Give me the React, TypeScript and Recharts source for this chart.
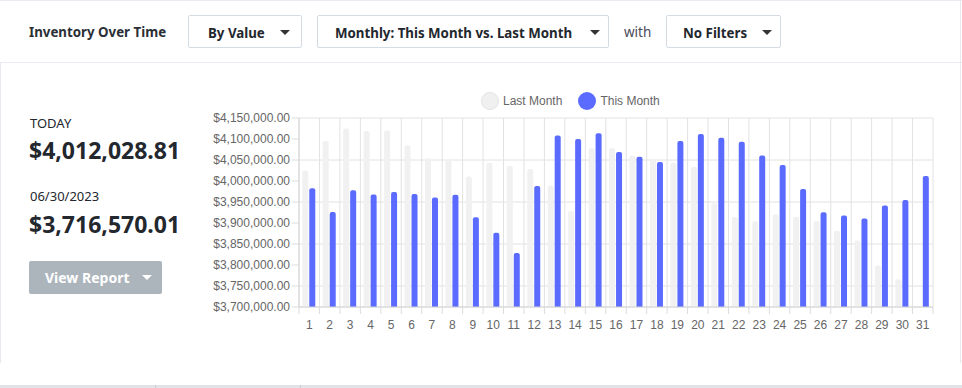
import React from 'react';
import { BarChart, Bar, XAxis, YAxis, CartesianGrid } from 'recharts';

// days of the month
const days = [
  '1', '2', '3', '4', '5', '6', '7', '8', '9', '10', '11', '12', '13', '14', '15', '16',
  '17', '18', '19', '20', '21', '22', '23', '24', '25', '26', '27', '28', '29', '30', '31',
];

const lastMonth = [
  4025000, 4095000, 4125000, 4119000, 4120500, 4085000, 4054000, 4051000, 4011000, 4043500,
  4036500, 4028500, 3989500, 3928500, 4078000, 4078000, 4060000, 4053000, 4043500, 4034000,
  3947000, 3914000, 3905000, 3920500, 3915000, 3905000, 3881500, 3858500, 3799000, 3766000,
  null,
];

const thisMonth = [
  3983000, 3926000, 3978000, 3968000, 3974000, 3969000, 3960500, 3967500, 3913500, 3877000,
  3828500, 3988000, 4108500, 4100000, 4113500, 4069000, 4058000, 4045000, 4095000, 4112000,
  4103000, 4093500, 4060500, 4038000, 3981000, 3925500, 3918000, 3911000, 3941500, 3955000,
  4012000,
];

const yTicks = [
  3700000, 3750000, 3800000, 3850000, 3900000, 3950000, 4000000, 4050000, 4100000, 4150000,
];

const data = days.map((d, i) => ({ day: d, lastMonth: lastMonth[i], thisMonth: thisMonth[i] }));

const CHART_W = 745;
const CHART_H = 260;
const MARGIN = { top: 33, right: 12, bottom: 8, left: 0 };
const Y_W = 99;
const PLOT_W = CHART_W - MARGIN.left - MARGIN.right - Y_W;
const BAND = PLOT_W / days.length;

const money = (v: number) =>
  '$' + v.toLocaleString('en-US', { minimumFractionDigits: 2, maximumFractionDigits: 2 });

const AXIS_FONT = '"Liberation Sans", Arial, sans-serif';
const UI_FONT = '"Noto Sans", sans-serif';

function DayTick(props: any) {
  const { x, y, payload, index } = props;
  const axisY = y - 8;
  return (
    <g>
      <line x1={x - BAND / 2} x2={x - BAND / 2} y1={axisY} y2={axisY + 7} stroke="#dcdcdc" />
      {index === days.length - 1 && (
        <line x1={x + BAND / 2} x2={x + BAND / 2} y1={axisY} y2={axisY + 7} stroke="#dcdcdc" />
      )}
      <text x={x} y={y + 14} textAnchor="middle" fill="#666" fontSize={12} fontFamily={AXIS_FONT}>
        {payload.value}
      </text>
    </g>
  );
}

function Caret({ color = '#333' }: { color?: string }) {
  return (
    <svg width="10" height="6" style={{ display: 'block' }}>
      <polygon points="0,0 10,0 5,5" fill={color} />
    </svg>
  );
}

function Dropdown({ label, left, width, textLeft, caretLeft }: any) {
  return (
    <div
      style={{
        position: 'absolute', left, top: 15, width, height: 33, boxSizing: 'border-box',
        border: '1px solid #d3dbe4', borderRadius: 2,
      }}
    >
      <span
        style={{
          position: 'absolute', left: textLeft, top: 8, fontSize: 13.3, fontWeight: 700,
          color: '#23272e', whiteSpace: 'nowrap',
        }}
      >
        {label}
      </span>
      <div style={{ position: 'absolute', left: caretLeft, top: 14 }}>
        <Caret />
      </div>
    </div>
  );
}

export default function App() {
  return (
    <div style={{ position: 'relative', width: 962, height: 388, background: '#fff', fontFamily: UI_FONT, overflow: 'hidden' }}>
      <style>{'body{margin:0}'}</style>
      {/* frame */}
      <div style={{ position: 'absolute', left: 0, top: 0, width: 962, height: 1, background: '#e9edf1' }} />
      <div style={{ position: 'absolute', left: 0, top: 62, width: 962, height: 1, background: '#e9edf1' }} />
      <div style={{ position: 'absolute', left: 0, top: 63, width: 1, height: 300, background: '#e6eaee' }} />
      <div style={{ position: 'absolute', left: 960, top: 0, width: 1, height: 363, background: '#e6eaee' }} />
      <div style={{ position: 'absolute', left: 0, top: 385, width: 962, height: 3, background: '#dfe3e7' }} />
      <div style={{ position: 'absolute', left: 155, top: 385, width: 1, height: 3, background: '#c9ced3' }} />
      <div style={{ position: 'absolute', left: 300, top: 385, width: 1, height: 3, background: '#c9ced3' }} />

      {/* header */}
      <div style={{ position: 'absolute', left: 29, top: 23, fontSize: 13.3, fontWeight: 700, color: '#2b2f36' }}>
        Inventory Over Time
      </div>
      <Dropdown label="By Value" left={188} width={114} textLeft={19} caretLeft={91} />
      <Dropdown label="Monthly: This Month vs. Last Month" left={317} width={292} textLeft={17} caretLeft={272} />
      <div style={{ position: 'absolute', left: 624, top: 23, fontSize: 13.5, color: '#4a4a5a' }}>with</div>
      <Dropdown label="No Filters" left={666} width={115} textLeft={16} caretLeft={95} />

      {/* left summary */}
      <div style={{ position: 'absolute', left: 30, top: 114, fontSize: 13, color: '#23272e' }}>TODAY</div>
      <div style={{ position: 'absolute', left: 29, top: 134, fontSize: 23, fontWeight: 700, color: '#23272e' }}>
        $4,012,028.81
      </div>
      <div style={{ position: 'absolute', left: 30, top: 187, fontSize: 13, color: '#23272e' }}>06/30/2023</div>
      <div style={{ position: 'absolute', left: 29, top: 208, fontSize: 23, fontWeight: 700, color: '#23272e' }}>
        $3,716,570.01
      </div>
      <div
        style={{
          position: 'absolute', left: 29, top: 261, width: 133, height: 33, background: '#adb5bc',
          borderRadius: 2,
        }}
      >
        <span style={{ position: 'absolute', left: 16, top: 7, fontSize: 14, fontWeight: 700, color: '#fff' }}>
          View Report
        </span>
        <div style={{ position: 'absolute', left: 113, top: 14 }}>
          <Caret color="#fff" />
        </div>
      </div>

      {/* legend */}
      <div style={{ position: 'absolute', left: 481, top: 92, display: 'flex', alignItems: 'center', fontFamily: AXIS_FONT, fontSize: 12, color: '#666' }}>
        <span style={{ width: 16, height: 16, borderRadius: 9, background: '#f0f0f0', border: '1px solid #e2e2e2', marginRight: 4 }} />
        <span style={{ marginRight: 16 }}>Last Month</span>
        <span style={{ width: 18, height: 18, borderRadius: 9, background: '#5b6bff', marginRight: 4 }} />
        <span>This Month</span>
      </div>

      {/* chart */}
      <div style={{ position: 'absolute', left: 200, top: 85 }}>
        <BarChart
          width={CHART_W}
          height={CHART_H}
          data={data}
          margin={MARGIN}
          barCategoryGap="16%"
          barGap={1}
        >
          <CartesianGrid
            stroke="#e2e2e2"
            verticalCoordinatesGenerator={({ offset }: any) =>
              days.map((_, i) => offset.left + (i * offset.width) / days.length).concat([offset.left + offset.width])
            }
          />
          <XAxis
            dataKey="day"
            tickLine={false}
            axisLine={{ stroke: '#d4d4d4' }}
            tick={<DayTick />}
            interval={0}
            height={30}
          />
          <YAxis
            domain={[3700000, 4150000]}
            ticks={yTicks}
            tickFormatter={money}
            width={Y_W}
            tickSize={7}
            tickLine={{ stroke: '#dcdcdc' }}
            axisLine={{ stroke: '#d4d4d4' }}
            tick={{ fill: '#666', fontSize: 12, fontFamily: AXIS_FONT }}
            allowDataOverflow
          />
          <Bar dataKey="lastMonth" fill="#f1f1f1" radius={[2, 2, 0, 0]} isAnimationActive={false} />
          <Bar dataKey="thisMonth" fill="#5b6bff" radius={[2, 2, 0, 0]} isAnimationActive={false} />
        </BarChart>
      </div>
    </div>
  );
}
